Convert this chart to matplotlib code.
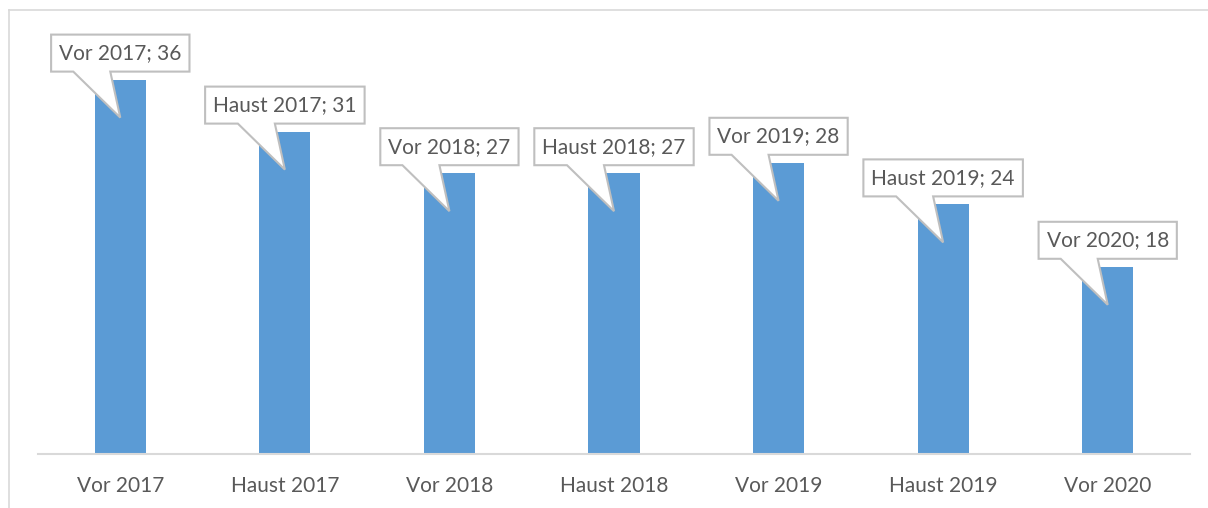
import matplotlib
matplotlib.use('Agg')
import matplotlib.pyplot as plt
import matplotlib.transforms as mtransforms
from matplotlib.patches import Polygon
from matplotlib.lines import Line2D

categories = ['Vor 2017', 'Haust 2017', 'Vor 2018', 'Haust 2018', 'Vor 2019', 'Haust 2019', 'Vor 2020']
values = [36, 31, 27, 27, 28, 24, 18]

plt.rcParams['font.family'] = ['Lato', 'DejaVu Sans']
W, H = 1208, 508
fig = plt.figure(figsize=(W / 100, H / 100), dpi=100)
ax = fig.add_axes([38 / W, 1 - 454 / H, (1190 - 38) / W, (454 - 38) / H])

x = list(range(len(categories)))
ax.bar(x, values, width=0.31, color='#5B9BD5', zorder=2)
ax.set_xlim(-0.5, len(categories) - 0.5)
ax.set_ylim(0, 40)
ax.set_xticks(x)
ax.set_xticklabels(categories, fontsize=15, color='#595959')
ax.tick_params(axis='x', length=0, pad=16)
ax.set_yticks([])
for s in ['top', 'right', 'left']:
    ax.spines[s].set_visible(False)
ax.spines['bottom'].set_color('#d9d9d9')
ax.spines['bottom'].set_linewidth(1.5)

# chart area frame (left and top edges visible)
fig.add_artist(Line2D([9 / W, 9 / W], [0, 1 - 10 / H], transform=fig.transFigure, color='#d9d9d9', lw=1.2))
fig.add_artist(Line2D([9 / W, 1], [1 - 10 / H, 1 - 10 / H], transform=fig.transFigure, color='#d9d9d9', lw=1.2))

fig.canvas.draw()
renderer = fig.canvas.get_renderer()

# callout labels
for xi, cat, v in zip(x, categories, values):
    off = mtransforms.ScaledTranslation(xi, v, ax.transData)
    tr = mtransforms.Affine2D() + off
    t = ax.text(0, 26.5, f'{cat}; {v}', transform=tr, ha='center', va='center',
                fontsize=15, color='#595959', zorder=5)
    bb = t.get_window_extent(renderer)
    hw = bb.width / 2 + 8
    verts = [(-hw, 8), (-47, 8), (0, -38), (-10, 8), (hw, 8), (hw, 45), (-hw, 45)]
    poly = Polygon(verts, closed=True, transform=tr, facecolor='white',
                   edgecolor='#bfbfbf', lw=1.5, zorder=4, clip_on=False)
    ax.add_patch(poly)
    t.set_clip_on(False)

fig.savefig('out.png', dpi=100)
